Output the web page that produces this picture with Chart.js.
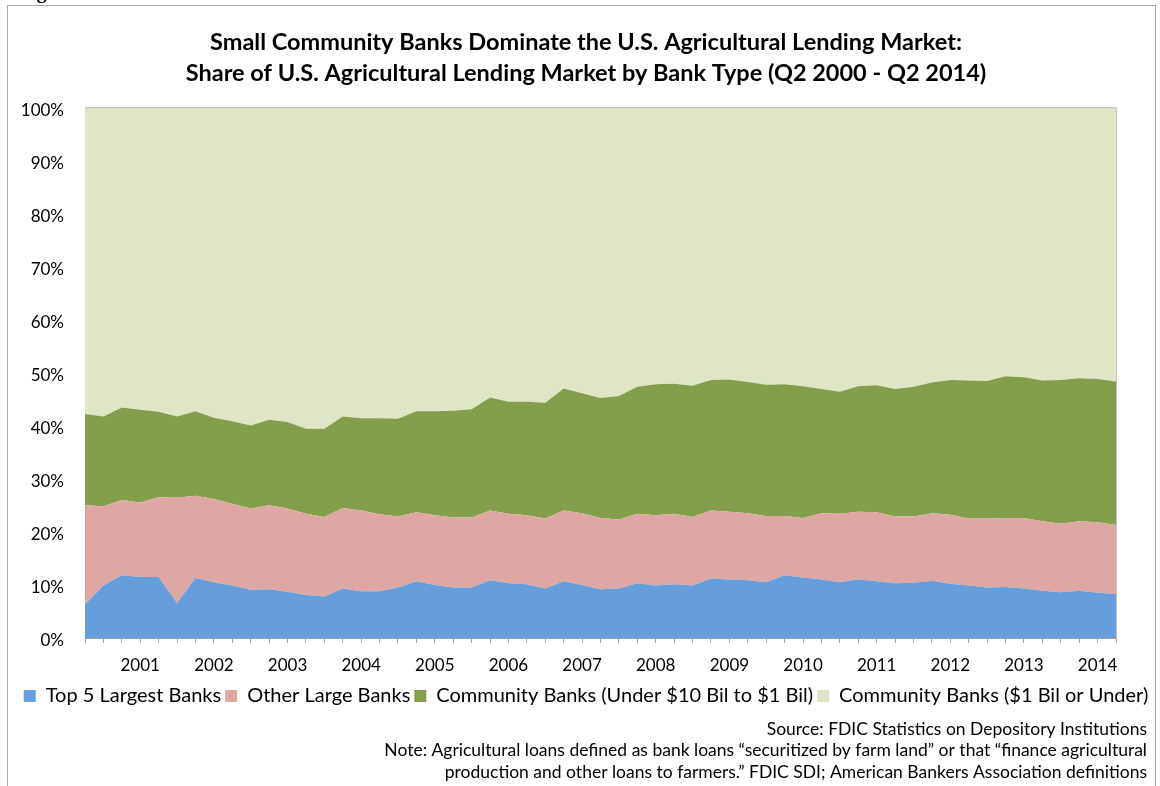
<!DOCTYPE html>
<html>
<head>
<meta charset="utf-8">
<script src="https://cdn.jsdelivr.net/npm/chart.js@4.4.1/dist/chart.umd.min.js"></script>
<style>
  html, body { margin: 0; padding: 0; background: #ffffff; }
  #wrap { width: 1160px; height: 786px; position: relative; }
  canvas { display: block; }
</style>
</head>
<body>
<div id="wrap"><canvas id="c" width="1160" height="786"></canvas></div>
<script>
// ---- Data (share of U.S. agricultural lending market, %) ----
const quarters = [
  'Q2 2000','Q3 2000','Q4 2000',
  'Q1 2001','Q2 2001','Q3 2001','Q4 2001',
  'Q1 2002','Q2 2002','Q3 2002','Q4 2002',
  'Q1 2003','Q2 2003','Q3 2003','Q4 2003',
  'Q1 2004','Q2 2004','Q3 2004','Q4 2004',
  'Q1 2005','Q2 2005','Q3 2005','Q4 2005',
  'Q1 2006','Q2 2006','Q3 2006','Q4 2006',
  'Q1 2007','Q2 2007','Q3 2007','Q4 2007',
  'Q1 2008','Q2 2008','Q3 2008','Q4 2008',
  'Q1 2009','Q2 2009','Q3 2009','Q4 2009',
  'Q1 2010','Q2 2010','Q3 2010','Q4 2010',
  'Q1 2011','Q2 2011','Q3 2011','Q4 2011',
  'Q1 2012','Q2 2012','Q3 2012','Q4 2012',
  'Q1 2013','Q2 2013','Q3 2013','Q4 2013',
  'Q1 2014','Q2 2014'
];

const top5Largest = [
  6.3, 9.9, 11.8, 11.5, 11.5, 6.6, 11.3, 10.5, 9.9, 9.1,
  9.2, 8.7, 8.1, 7.8, 9.3, 8.8, 8.8, 9.5, 10.7, 10.0,
  9.5, 9.5, 10.9, 10.3, 10.1, 9.3, 10.7, 10.0, 9.2, 9.3,
  10.3, 9.9, 10.1, 9.9, 11.2, 11.0, 10.9, 10.5, 11.8, 11.4,
  11.0, 10.5, 11.0, 10.7, 10.3, 10.4, 10.8, 10.2, 9.9, 9.5,
  9.6, 9.3, 8.9, 8.6, 8.9, 8.5, 8.3
];
const otherLarge = [
  18.7, 14.9, 14.2, 14.0, 15.0, 19.8, 15.5, 15.7, 15.4, 15.3,
  15.8, 15.7, 15.3, 15.0, 15.2, 15.2, 14.5, 13.4, 13.0, 13.1,
  13.2, 13.2, 13.1, 13.1, 13.0, 13.2, 13.3, 13.5, 13.4, 13.0,
  13.1, 13.2, 13.3, 12.9, 12.8, 12.8, 12.6, 12.5, 11.2, 11.2,
  12.5, 12.9, 12.8, 13.0, 12.6, 12.5, 12.7, 13.0, 12.6, 13.0,
  13.0, 13.3, 13.1, 12.9, 13.1, 13.3, 13.0
];
const communityMid = [
  17.2, 16.9, 17.4, 17.5, 16.1, 15.3, 15.9, 15.3, 15.5, 15.6,
  16.1, 16.3, 16.0, 16.6, 17.2, 17.4, 18.1, 18.4, 19.0, 19.6,
  20.1, 20.4, 21.3, 21.1, 21.4, 21.8, 23.0, 22.6, 22.6, 23.3,
  23.9, 24.7, 24.5, 24.7, 24.6, 24.9, 24.7, 24.7, 24.8, 24.8,
  23.4, 23.0, 23.6, 23.9, 24.0, 24.4, 24.6, 25.4, 26.0, 25.9,
  26.7, 26.5, 26.5, 27.1, 26.9, 27.0, 27.0
];
const communitySmall = [
  57.8, 58.3, 56.6, 57.0, 57.4, 58.3, 57.3, 58.5, 59.2, 60.0,
  58.9, 59.3, 60.6, 60.6, 58.3, 58.6, 58.6, 58.7, 57.3, 57.3,
  57.2, 56.9, 54.7, 55.5, 55.5, 55.7, 53.0, 53.9, 54.8, 54.4,
  52.7, 52.2, 52.1, 52.5, 51.4, 51.3, 51.8, 52.3, 52.2, 52.6,
  53.1, 53.6, 52.6, 52.4, 53.1, 52.7, 51.9, 51.4, 51.5, 51.6,
  50.7, 50.9, 51.5, 51.4, 51.1, 51.2, 51.7
];

const seriesNames = [
  'Top 5 Largest Banks',
  'Other Large Banks',
  'Community Banks (Under $10 Bil to $1 Bil)',
  'Community Banks ($1 Bil or Under)'
];
const seriesColors = ['#669ddb', '#dfa7a3', '#849f4c', '#dfe6c6'];

const yTicks = [0, 10, 20, 30, 40, 50, 60, 70, 80, 90, 100];

const titleLines = [
  'Small Community Banks Dominate the U.S. Agricultural Lending Market:',
  'Share of U.S. Agricultural Lending Market by Bank Type (Q2 2000 - Q2 2014)'
];
const noteLines = [
  'Source: FDIC Statistics on Depository Institutions',
  'Note: Agricultural loans defined as bank loans \u201csecuritized by farm land\u201d or that \u201cfinance agricultural',
  'production and other loans to farmers.\u201d FDIC SDI; American Bankers Association definitions'
];

const FONT = 'Lato, "Liberation Sans", sans-serif';

// ---- Decorations plugin ----
const decor = {
  id: 'decor',
  beforeDraw(chart) {
    const ctx = chart.ctx;
    ctx.save();
    ctx.fillStyle = '#ffffff';
    ctx.fillRect(0, 0, chart.width, chart.height);
    // partially visible figure caption above the frame
    ctx.fillStyle = '#000000';
    ctx.font = 'bold 20px "Liberation Serif", serif';
    ctx.textAlign = 'left';
    ctx.textBaseline = 'alphabetic';
    ctx.fillText('Figure', 19, -2);
    // outer frame
    ctx.strokeStyle = '#a9a9a9';
    ctx.lineWidth = 1;
    ctx.strokeRect(7.5, 5.5, 1148, 800);
    ctx.restore();
  },
  afterDatasetsDraw(chart) {
    const {ctx, chartArea: a} = chart;
    ctx.save();
    ctx.strokeStyle = '#c4c4c4';
    ctx.lineWidth = 1;
    ctx.beginPath();
    ctx.moveTo(a.left, a.top + 0.5);
    ctx.lineTo(a.right + 0.5, a.top + 0.5);
    ctx.lineTo(a.right + 0.5, a.bottom);
    ctx.stroke();
    ctx.restore();
  },
  afterDraw(chart) {
    const ctx = chart.ctx;
    ctx.save();
    ctx.fillStyle = '#000000';
    ctx.font = '17.5px ' + FONT;
    ctx.textAlign = 'right';
    ctx.textBaseline = 'middle';
    const ys = [729, 750, 772];
    noteLines.forEach((t, i) => ctx.fillText(t, 1147, ys[i]));
    ctx.restore();
  }
};

const datasets = [top5Largest, otherLarge, communityMid, communitySmall].map((vals, i) => ({
  label: seriesNames[i],
  data: vals,
  backgroundColor: seriesColors[i],
  borderColor: seriesColors[i],
  borderWidth: 0,
  pointRadius: 0,
  pointHoverRadius: 0,
  tension: 0,
  fill: i === 0 ? 'origin' : '-1',
  yAxisID: 'y'
}));

new Chart(document.getElementById('c'), {
  type: 'line',
  data: { labels: quarters, datasets },
  plugins: [decor],
  options: {
    responsive: false,
    devicePixelRatio: 1,
    animation: false,
    layout: { padding: { left: 12, right: 0, top: 0, bottom: 70 } },
    interaction: { mode: 'index', intersect: false },
    plugins: {
      tooltip: { enabled: false },
      title: {
        display: true,
        text: titleLines,
        color: '#000000',
        font: { family: FONT, size: 23.5, weight: 'bold', lineHeight: 1.32 },
        padding: { top: 27, bottom: 18 }
      },
      legend: {
        display: true,
        position: 'bottom',
        labels: {
          color: '#000000',
          font: { family: FONT, size: 20 },
          boxWidth: 12,
          boxHeight: 12,
          padding: 4
        }
      }
    },
    scales: {
      x: {
        type: 'category',
        offset: false,
        afterFit: (s) => { s.height = 44; },
        grid: {
          display: true,
          drawOnChartArea: false,
          drawTicks: true,
          tickLength: 5,
          color: '#a0a0a0',
          offset: false
        },
        border: { display: true, color: '#a0a0a0', width: 1 },
        ticks: {
          autoSkip: false,
          maxRotation: 0,
          minRotation: 0,
          padding: 12,
          color: '#000000',
          font: { family: FONT, size: 17 },
          callback: function (value, index) {
            const q = quarters[index];
            return q.startsWith('Q1') ? q.slice(3) : '';
          }
        }
      },
      y: {
        type: 'linear',
        position: 'left',
        stacked: true,
        min: 0,
        max: 100,
        afterFit: (s) => { s.width = 73; },
        afterBuildTicks: (s) => { s.ticks = yTicks.map(v => ({ value: v })); },
        grid: { display: false, drawTicks: false },
        border: { display: true, color: '#a0a0a0', width: 1 },
        ticks: {
          padding: 21,
          labelOffset: 3,
          color: '#000000',
          font: { family: FONT, size: 17 },
          callback: (v) => v + '%'
        }
      },
      yRight: {
        type: 'linear',
        position: 'right',
        display: true,
        afterFit: (s) => { s.width = 44; },
        grid: { display: false, drawTicks: false },
        border: { display: false },
        ticks: { display: false }
      }
    }
  }
});
</script>
</body>
</html>
